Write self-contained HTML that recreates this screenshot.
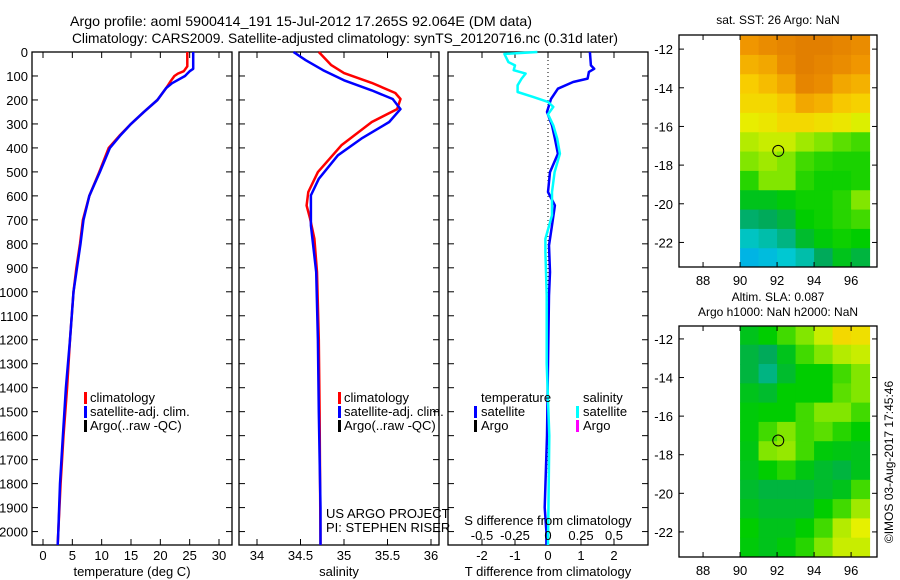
<!DOCTYPE html>
<html><head><meta charset="utf-8"><style>
html,body{margin:0;padding:0;background:#fff;}
svg{display:block;font-family:"Liberation Sans",sans-serif;}
text{fill:#000;}
</style></head><body>
<svg id="chart" width="900" height="580" xmlns="http://www.w3.org/2000/svg">
<text x="70" y="26" font-size="14" textLength="462" lengthAdjust="spacingAndGlyphs">Argo profile: aoml 5900414_191 15-Jul-2012 17.265S 92.064E (DM data)</text>
<text x="72" y="43" font-size="14" textLength="546" lengthAdjust="spacingAndGlyphs">Climatology: CARS2009. Satellite-adjusted climatology: synTS_20120716.nc (0.31d later)</text>
<g id="g"></g>
</svg>
<script>
// ---------- DATA ----------
const depthTicks=[0,100,200,300,400,500,600,700,800,900,1000,1100,1200,1300,1400,1500,1600,1700,1800,1900,2000];
const tempTicks=[0,5,10,15,20,25,30];
const salTicks=[34,34.5,35,35.5,36];
const salTickLabels=["34","34.5","35","35.5","36"];
const tdiffTicks=[-2,-1,0,1,2];
const sdiffTicks=[-0.5,-0.25,0,0.25,0.5];
const sdiffTickLabels=["-0.5","-0.25","0","0.25","0.5"];

const tClimDepth=[0,60,80,90,100,120,150,200,250,300,350,400,500,600,700,800,900,1000,1200,1400,1600,1800,2000,2056];
const tClimVal  =[24.6,24.6,24.0,23.0,22.4,21.8,21.0,19.5,17.2,15.0,13.0,11.2,9.6,7.9,6.8,6.3,5.7,5.2,4.6,4.1,3.5,3.0,2.6,2.5];
const tSatDepth=[0,70,80,90,100,130,150,200,250,300,350,400,500,600,700,800,900,1000,1200,1400,1600,1800,2000,2056];
const tSatVal  =[25.6,25.6,25.0,24.6,24.2,22.0,21.0,19.5,17.2,15.0,13.1,11.4,9.7,7.9,6.9,6.4,5.8,5.2,4.6,3.9,3.4,2.9,2.6,2.5];

const sClimDepth=[0,54,88,129,171,196,238,292,389,501,584,640,695,779,918,1200,1500,2056];
const sClimVal  =[34.71,34.85,35.0,35.32,35.59,35.65,35.61,35.32,34.97,34.70,34.59,34.57,34.61,34.66,34.69,34.71,34.72,34.73];
const sSatDepth=[0,34,76,118,160,196,238,292,361,431,529,598,723,918,1200,1500,1900,2056];
const sSatVal  =[34.42,34.56,34.76,35.0,35.32,35.56,35.65,35.52,35.2,34.93,34.71,34.62,34.62,34.68,34.70,34.71,34.73,34.73];

const tdDepth=[0,56,70,83,111,125,153,196,250,306,361,424,501,584,640,723,807,918,1015,1300,1600,1900,2000,2056];
const tdVal  =[1.27,1.3,1.4,1.24,1.2,0.76,0.3,0.09,-0.03,0.12,0.21,0.3,0.06,0.0,0.21,0.12,0.03,0.06,0.03,0.0,-0.03,-0.1,-0.05,-0.05];
const sdDepth=[0,8,42,56,76,90,111,139,167,188,208,229,260,306,361,424,501,584,681,779,834,1015,1300,1600,2056];
const sdVal  =[-0.08,-0.33,-0.3,-0.25,-0.26,-0.17,-0.2,-0.23,-0.23,-0.11,0.0,0.04,0.0,0.04,0.07,0.09,0.05,0.03,0.03,-0.02,-0.02,-0.01,-0.01,0.01,0.0];

const mapLons=[90.5,91.5,92.5,93.5,94.5,95.5,96.5];
const mapLats=[-11.8,-12.8,-13.8,-14.8,-15.8,-16.8,-17.8,-18.8,-19.8,-20.8,-21.8,-22.8];
const sstGrid=[
[0.85,0.88,0.90,0.92,0.92,0.90,0.88],
[0.80,0.82,0.88,0.92,0.90,0.88,0.85],
[0.75,0.78,0.82,0.90,0.88,0.82,0.80],
[0.72,0.72,0.76,0.82,0.80,0.76,0.74],
[0.66,0.68,0.72,0.72,0.70,0.68,0.64],
[0.60,0.62,0.62,0.58,0.55,0.52,0.50],
[0.55,0.58,0.55,0.50,0.48,0.47,0.47],
[0.48,0.55,0.55,0.48,0.46,0.46,0.47],
[0.42,0.42,0.44,0.46,0.46,0.48,0.55],
[0.33,0.35,0.38,0.45,0.46,0.48,0.50],
[0.22,0.25,0.30,0.40,0.44,0.46,0.45],
[0.12,0.15,0.20,0.25,0.35,0.42,0.38]];
const slaGrid=[
[0.42,0.45,0.50,0.55,0.62,0.72,0.70],
[0.38,0.35,0.42,0.50,0.55,0.60,0.62],
[0.38,0.30,0.40,0.45,0.45,0.50,0.55],
[0.42,0.40,0.45,0.45,0.45,0.52,0.55],
[0.44,0.45,0.45,0.50,0.55,0.55,0.50],
[0.44,0.50,0.55,0.50,0.52,0.48,0.45],
[0.43,0.55,0.57,0.50,0.44,0.43,0.42],
[0.42,0.45,0.48,0.43,0.40,0.38,0.42],
[0.40,0.38,0.38,0.38,0.40,0.42,0.50],
[0.42,0.40,0.40,0.40,0.45,0.50,0.58],
[0.45,0.42,0.42,0.45,0.50,0.60,0.65],
[0.44,0.42,0.44,0.48,0.55,0.62,0.62]];
const lonTicks=[88,90,92,94,96];
const latTicks=[-12,-14,-16,-18,-20,-22];
const floatLon=92.064, floatLat=-17.265;

// ---------- helpers ----------
const NS="http://www.w3.org/2000/svg";
const G=document.getElementById('g');
function mk(tag,attrs,parent){const e=document.createElementNS(NS,tag);for(const k in attrs)e.setAttribute(k,attrs[k]);(parent||G).appendChild(e);return e;}
function lin(d0,d1,r0,r1){return v=>r0+(v-d0)/(d1-d0)*(r1-r0);}
const TOP=52,BOT=545;
const yD=lin(0,2056,TOP,BOT);

function frame(x0,x1,name){
  const r=mk('rect',{x:x0,y:TOP,width:x1-x0,height:BOT-TOP,fill:'none',stroke:'#000','stroke-width':1.3});
  
  
  for(const d of depthTicks){const y=yD(d);
    mk('line',{x1:x0,x2:x0+6,y1:y,y2:y,stroke:'#000'});
    mk('line',{x1:x1-6,x2:x1,y1:y,y2:y,stroke:'#000'});}
}
function xticks(xs,labels,x0,x1,ly,name){
  xs.forEach((x,i)=>{
    mk('line',{x1:x,x2:x,y1:TOP,y2:TOP+6,stroke:'#000'});
    mk('line',{x1:x,x2:x,y1:BOT-6,y2:BOT,stroke:'#000'});
    if(labels){const t=mk('text',{x:x,y:ly,'font-size':13,'text-anchor':'middle'});t.textContent=labels[i];
      
      }
  });
}
function line(depths,vals,xs,color,name,w){
  const pts=depths.map((d,i)=>xs(vals[i]).toFixed(1)+','+yD(d).toFixed(1)).join(' ');
  const p=mk('polyline',{points:pts,fill:'none',stroke:color,'stroke-width':w||2.5,'stroke-linejoin':'round'});
  
  
}
function label(x,y,txt,name,size,anchor){const t=mk('text',{x:x,y:y,'font-size':size||13,'text-anchor':anchor||'start'});t.textContent=txt;
  
  return t;}
function legendBar(x,y,color,name){const r=mk('rect',{x:x,y:y-10,width:3,height:12,fill:color});
  
  }

// ---------- panel 1: temperature ----------
const xT=lin(0,30,43,219);
frame(32,232,'temperature-panel');
xticks(tempTicks.map(xT),tempTicks.map(String),32,232,560,'temperature-tick-label');
depthTicks.forEach(d=>{const t=mk('text',{x:28,y:yD(d)+5,'font-size':13,'text-anchor':'end'});t.textContent=d;
  
  });
line(tClimDepth,tClimVal,xT,'#ff0000','temperature-climatology-line');
line(tSatDepth,tSatVal,xT,'#0000ff','temperature-satellite-line');
label(132,576,'temperature (deg C)','temperature-axis-title',13,'middle');
legendBar(84,402,'#ff0000','legend-climatology-swatch');label(90,402,'climatology','legend-climatology');
legendBar(84,416,'#0000ff','legend-satellite-swatch');label(90,416,'satellite-adj. clim.','legend-satellite-adj');
legendBar(84,430,'#000','legend-argo-swatch');label(90,430,'Argo(..raw -QC)','legend-argo');

// ---------- panel 2: salinity ----------
const xS=lin(34,36,257,431);
frame(239,439,'salinity-panel');
xticks(salTicks.map(xS),salTickLabels,239,439,560,'salinity-tick-label');
line(sClimDepth,sClimVal,xS,'#ff0000','salinity-climatology-line');
line(sSatDepth,sSatVal,xS,'#0000ff','salinity-satellite-line');
label(339,576,'salinity','salinity-axis-title',13,'middle');
legendBar(338,402,'#ff0000','sal-legend-climatology-swatch');label(344,402,'climatology','sal-legend-climatology');
legendBar(338,416,'#0000ff','sal-legend-satellite-swatch');label(344,416,'satellite-adj. clim.','sal-legend-satellite-adj');
legendBar(338,430,'#000','sal-legend-argo-swatch');label(344,430,'Argo(..raw -QC)','sal-legend-argo');
label(326,518,'US ARGO PROJECT','credit-project');
label(326,532,'PI: STEPHEN RISER','credit-pi');

// ---------- panel 3: differences ----------
const xTd=lin(0,2,548,614);
const xSd=lin(0,0.5,548,614);
frame(448,648,'difference-panel');
xticks(tdiffTicks.map(xTd),tdiffTicks.map(String),448,648,560,'t-difference-tick-label');
const zl=mk('line',{x1:xTd(0),x2:xTd(0),y1:TOP,y2:BOT,stroke:'#000','stroke-dasharray':'1,3'});


line(tdDepth,tdVal,xTd,'#0000ff','temperature-difference-line');
line(sdDepth,sdVal,xSd,'#00ffff','salinity-difference-line');
sdiffTicks.forEach((v,i)=>label(xSd(v),540,sdiffTickLabels[i],'s-difference-tick-label',13,'middle'));
label(548,525,'S difference from climatology','s-difference-title',13,'middle');
label(548,576,'T difference from climatology','t-difference-axis-title',13,'middle');
label(481,402,'temperature','diff-legend-temperature');
label(583,402,'salinity','diff-legend-salinity');
legendBar(474,416,'#0000ff','diff-legend-t-sat-swatch');label(481,416,'satellite','diff-legend-t-satellite');
legendBar(474,430,'#000','diff-legend-t-argo-swatch');label(481,430,'Argo','diff-legend-t-argo');
legendBar(576,416,'#00ffff','diff-legend-s-sat-swatch');label(583,416,'satellite','diff-legend-s-satellite');
legendBar(576,430,'#ff00ff','diff-legend-s-argo-swatch');label(583,430,'Argo','diff-legend-s-argo');

// ---------- maps ----------
const stops=[[0,[0,150,255]],[0.2,[0,200,210]],[0.35,[0,170,90]],[0.45,[0,205,0]],[0.55,[130,230,0]],[0.65,[230,240,0]],[0.75,[248,205,0]],[0.85,[240,150,0]],[1,[210,100,0]]];
function cmap(v){for(let i=1;i<stops.length;i++){if(v<=stops[i][0]){const a=stops[i-1],b=stops[i];const f=(v-a[0])/(b[0]-a[0]);
  const c=a[1].map((x,k)=>Math.round(x+(b[1][k]-x)*f));return 'rgb('+c.join(',')+')';}}return 'rgb(210,100,0)';}
function map(x0,x1,y0,y1,latTop,latBot,grid,name){
  const xL=lin(86.7,97.4,x0,x1), yL=lin(latTop,latBot,y0,y1);
  grid.forEach((row,r)=>row.forEach((v,c)=>{
    const lx=mapLons[c]-0.5, ly=mapLats[r]+0.5;
    const xa=xL(lx), xb=Math.min(xL(lx+1),x1), ya=Math.max(yL(ly),y0), yb=Math.min(yL(ly-1),y1);
    const cell=mk('rect',{x:xa,y:ya,width:xb-xa+0.5,height:yb-ya+0.5,fill:cmap(v)});
    
    
  }));
  const fr=mk('rect',{x:x0,y:y0,width:x1-x0,height:y1-y0,fill:'none',stroke:'#000','stroke-width':1.3});
  
  
  lonTicks.forEach(l=>{const x=xL(l);mk('line',{x1:x,x2:x,y1:y0,y2:y0+5,stroke:'#000'});mk('line',{x1:x,x2:x,y1:y1-5,y2:y1,stroke:'#000'});
    label(x,y1+18,String(l),name+'-lon-label',13,'middle');});
  latTicks.forEach(l=>{const y=yL(l);mk('line',{x1:x0,x2:x0+5,y1:y,y2:y,stroke:'#000'});mk('line',{x1:x1-5,x2:x1,y1:y,y2:y,stroke:'#000'});
    label(x0-6,y+5,String(l),name+'-lat-label',13,'end');});
  const c=mk('circle',{cx:xL(floatLon),cy:yL(floatLat),r:5.5,fill:'none',stroke:'#000','stroke-width':1});
  
  
}
map(679,877,35,267,-11.27,-23.27,sstGrid,'sst-map');
label(778,24,'sat. SST: 26 Argo: NaN','sst-map-title',12,'middle');
map(679,877,326,557,-11.33,-23.3,slaGrid,'sla-map');
label(778,301,'Altim. SLA: 0.087','sla-map-title',12,'middle');
label(778,316,'Argo h1000: NaN h2000: NaN','sla-map-subtitle',12,'middle');
const ts=label(0,0,'©IMOS 03-Aug-2017 17:45:46','timestamp',12,'middle');
ts.setAttribute('transform','translate(893,462) rotate(-90)');
</script>
</body></html>
